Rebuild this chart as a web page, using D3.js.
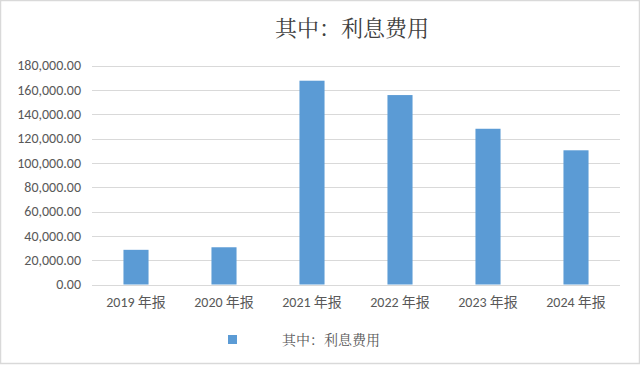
<!DOCTYPE html>
<html>
<head>
<meta charset="utf-8">
<script src="https://cdn.jsdelivr.net/npm/d3@7"></script>
<style>
body { margin: 0; background: #fff; }
svg { display: block; }
</style>
</head>
<body>
<svg id="chart" width="640" height="365"></svg>
<script>
var years = ["2019 年报", "2020 年报", "2021 年报", "2022 年报", "2023 年报", "2024 年报"];
var interest = [28500, 30600, 167500, 155700, 128000, 110300];
var yTicks = [0, 20000, 40000, 60000, 80000, 100000, 120000, 140000, 160000, 180000];
var seriesName = "其中：利息费用";

var W = 640, H = 365;
var plotL = 92, plotR = 620, plotT = 65.5, plotB = 284.5;
var serif = "SimSun, 'Noto Serif CJK SC', 'Noto Sans CJK SC', serif";
var latin = "Calibri, Carlito, 'Liberation Sans', 'Noto Sans CJK SC', sans-serif";

var svg = d3.select("#chart");

svg.append("rect")
	.attr("x", 0.5).attr("y", 0.5)
	.attr("width", W - 1).attr("height", H - 2)
	.attr("fill", "#fff")
	.attr("stroke", "#d9d9d9")
	.attr("stroke-width", 1.5);

var x = d3.scaleBand()
	.domain(years)
	.range([plotL, plotR])
	.paddingInner(0.715)
	.paddingOuter(0.3575);

var y = d3.scaleLinear()
	.domain([0, 180000])
	.range([plotB, plotT]);

// grid
svg.append("g")
	.selectAll("line")
	.data(yTicks)
	.enter().append("line")
		.attr("x1", plotL).attr("x2", plotR)
		.attr("y1", function(d) { return Math.round(y(d)) + 0.5; })
		.attr("y2", function(d) { return Math.round(y(d)) + 0.5; })
		.attr("stroke", "#d9d9d9")
		.attr("stroke-width", 1.2);

// y labels
var yaxis = d3.axisLeft(y)
	.tickValues(yTicks)
	.tickSize(0)
	.tickPadding(11)
	.tickFormat(d3.format(",.2f"));

var gy = svg.append("g")
	.attr("transform", "translate(" + plotL + ",0)")
	.call(yaxis);
gy.select(".domain").remove();
gy.selectAll("text")
	.attr("fill", "#595959")
	.style("font-family", latin)
	.style("font-size", "14px");

// bars
svg.append("g")
	.selectAll("rect")
	.data(interest)
	.enter().append("rect")
		.attr("x", function(d, i) { return x(years[i]); })
		.attr("y", function(d) { return y(d); })
		.attr("width", x.bandwidth())
		.attr("height", function(d) { return y(0) - y(d); })
		.attr("fill", "#5b9bd5");

// x labels
var xaxis = d3.axisBottom(x).tickSize(0).tickPadding(13);
var gx = svg.append("g")
	.attr("transform", "translate(0," + plotB + ")")
	.call(xaxis);
gx.select(".domain").remove();
gx.selectAll("text")
	.attr("fill", "#595959")
	.style("font-family", latin)
	.style("font-size", "14px");

// title
svg.append("text")
	.attr("x", 352)
	.attr("y", 36)
	.attr("text-anchor", "middle")
	.attr("fill", "#404040")
	.style("font-family", serif)
	.style("font-size", "22px")
	.text(seriesName);

// legend
svg.append("rect")
	.attr("x", 228).attr("y", 335)
	.attr("width", 9).attr("height", 9)
	.attr("fill", "#5b9bd5");
svg.append("text")
	.attr("x", 282)
	.attr("y", 345)
	.attr("fill", "#595959")
	.style("font-family", serif)
	.style("font-size", "14px")
	.text(seriesName);
</script>
</body>
</html>
